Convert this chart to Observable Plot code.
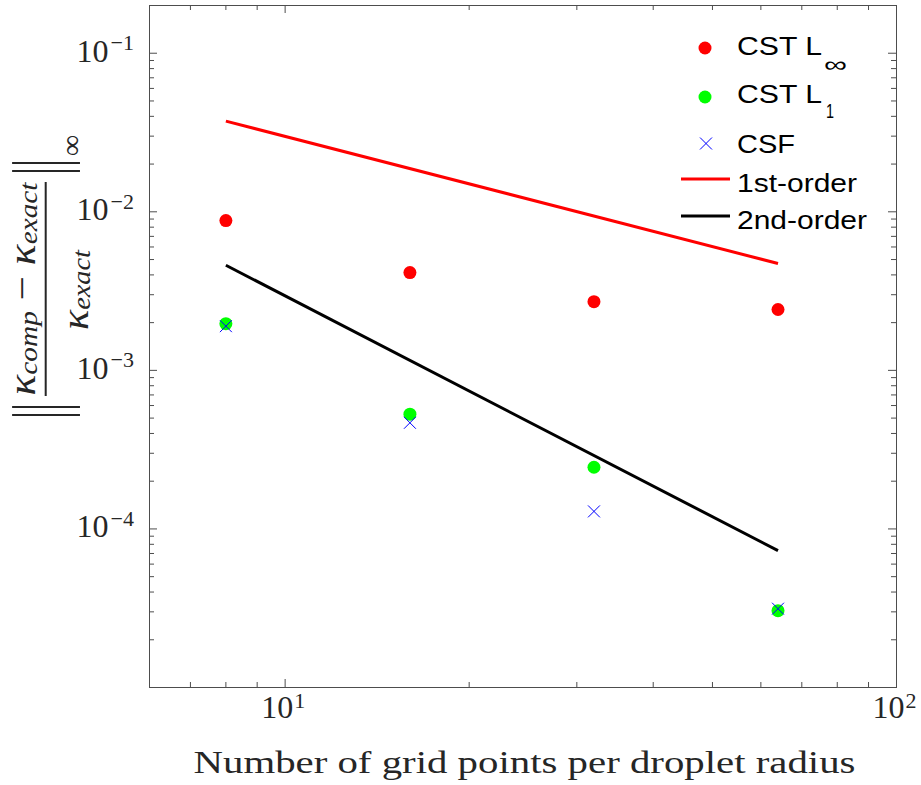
<!DOCTYPE html>
<html>
<head>
<meta charset="utf-8">
<script src="https://cdn.jsdelivr.net/npm/d3@7"></script>
<script src="https://cdn.jsdelivr.net/npm/@observablehq/plot@0.6"></script>
<style>
  html, body { margin: 0; padding: 0; background: #fff; }
  #chart { width: 921px; height: 785px; }
</style>
</head>
<body>
<div id="chart"></div>
<script>
// ---- data ----
const gridPoints = [8, 16, 32, 64];
const cstLinf = [0.0088, 0.00414, 0.00271, 0.00242];
const cstL1 = [0.00197, 0.000529, 0.000245, 3.05e-5];
const csf = [0.0019, 0.000467, 0.000129, 3.14e-5];
const firstOrderX = [8, 64];
const firstOrderY = [0.0373, 0.00472];
const secondOrderX = [8, 64];
const secondOrderY = [0.0046, 7.3e-5];

const xTickExponents = [1, 2];
const yTickExponents = [-4, -3, -2, -1];
const xMinorTicks = [7, 8, 9, 20, 30, 40, 50, 60, 70, 80, 90];
const yMinorTicks = [];
[-5, -4, -3, -2].forEach(e => { for (let m = 2; m <= 9; m++) yMinorTicks.push(m * 10 ** e); });

const xLabel = "Number of grid points per droplet radius";
const legendLabels = ["CST L", "CST L", "CSF", "1st-order", "2nd-order"];
const legendSubs = ["∞", "1", "", "", ""];

// ---- layout ----
const W = 921, H = 785;
const mL = 149, mR = 25, mT = 5, mB = 98;
const pw = W - mL - mR, ph = H - mT - mB;
const axisColor = "#4d4d4d";
const textColor = "#262626";
const serif = "Liberation Serif, Times New Roman, serif";
const sans = "Liberation Sans, Arial, sans-serif";

const toRows = (xs, ys) => xs.map((x, i) => ({x, y: ys[i]}));

const plot = Plot.plot({
  width: W, height: H,
  marginLeft: mL, marginRight: mR, marginTop: mT, marginBottom: mB,
  x: {type: "log", domain: [6, 100], axis: null},
  y: {type: "log", domain: [1e-5, 0.2], axis: null},
  marks: [
    // ticks (inward, both sides)
    Plot.ruleX(xTickExponents.map(e => 10 ** e), {x: d => d, stroke: axisColor, insetTop: ph - 8}),
    Plot.ruleX(xTickExponents.map(e => 10 ** e), {x: d => d, stroke: axisColor, insetBottom: ph - 8}),
    Plot.ruleX(xMinorTicks, {x: d => d, stroke: axisColor, insetTop: ph - 5}),
    Plot.ruleX(xMinorTicks, {x: d => d, stroke: axisColor, insetBottom: ph - 5}),
    Plot.ruleY(yTickExponents.map(e => 10 ** e), {y: d => d, stroke: axisColor, insetRight: pw - 8}),
    Plot.ruleY(yTickExponents.map(e => 10 ** e), {y: d => d, stroke: axisColor, insetLeft: pw - 8}),
    Plot.ruleY(yMinorTicks, {y: d => d, stroke: axisColor, insetRight: pw - 5}),
    Plot.ruleY(yMinorTicks, {y: d => d, stroke: axisColor, insetLeft: pw - 5}),
    Plot.frame({stroke: axisColor, strokeWidth: 1}),
    // y tick labels
    Plot.text(yTickExponents, {frameAnchor: "left", y: d => 10 ** d, text: () => "10",
      textAnchor: "end", lineAnchor: "bottom", dx: -41, dy: 8.5,
      fontSize: 32, fontFamily: serif, fill: textColor}),
    Plot.text(yTickExponents, {frameAnchor: "left", y: d => 10 ** d, text: d => "−" + Math.abs(d),
      textAnchor: "start", lineAnchor: "bottom", dx: -39, dy: -3,
      fontSize: 22, fontFamily: serif, fill: textColor}),
    // x tick labels
    Plot.text(xTickExponents, {frameAnchor: "bottom", x: d => 10 ** d, text: () => "10",
      textAnchor: "end", lineAnchor: "bottom", dx: 8, dy: 30,
      fontSize: 32, fontFamily: serif, fill: textColor}),
    Plot.text(xTickExponents, {frameAnchor: "bottom", x: d => 10 ** d, text: d => String(d),
      textAnchor: "start", lineAnchor: "bottom", dx: 9, dy: 20,
      fontSize: 22, fontFamily: serif, fill: textColor}),
    // x label
    Plot.text([xLabel], {frameAnchor: "bottom", text: d => d, textAnchor: "middle",
      lineAnchor: "bottom", dx: 1.5, dy: 85, fontSize: 32, fontFamily: serif, fill: textColor}),
    // data
    Plot.dot(toRows(gridPoints, cstLinf), {x: "x", y: "y", r: 6.5, fill: "#ff0000", stroke: null}),
    Plot.dot(toRows(gridPoints, cstL1), {x: "x", y: "y", r: 6.5, fill: "#00ff00", stroke: null}),
    Plot.dot(toRows(gridPoints, csf), {x: "x", y: "y", r: 5.5, symbol: "times", stroke: "#0000ff", strokeWidth: 1}),
    Plot.line(toRows(firstOrderX, firstOrderY), {x: "x", y: "y", stroke: "#ff0000", strokeWidth: 3, strokeLinecap: "butt"}),
    Plot.line(toRows(secondOrderX, secondOrderY), {x: "x", y: "y", stroke: "#000000", strokeWidth: 3, strokeLinecap: "butt"})
  ]
});

document.getElementById("chart").appendChild(plot);
const svg = d3.select(plot);

// stretch x label to reference width
svg.selectAll("text").filter(function () { return this.textContent === xLabel; })
  .attr("textLength", 662).attr("lengthAdjust", "spacingAndGlyphs");

// ---- y label: || (κ_comp − κ_exact) / κ_exact ||_∞ ----
const sy = 1.12;
const yl = svg.append("g")
  .attr("transform", `translate(45.7,289) rotate(-90) scale(1,${sy})`)
  .attr("fill", textColor)
  .attr("text-anchor", "start")
  .style("font-family", serif);
const num = yl.append("text").attr("x", 0).attr("y", -10).attr("text-anchor", "middle")
  .attr("font-size", 34).attr("textLength", 213).attr("lengthAdjust", "spacingAndGlyphs");
num.append("tspan").attr("font-style", "italic").text("κ");
num.append("tspan").attr("font-style", "italic").attr("font-size", 23).attr("dy", 2.5).text("comp");
num.append("tspan").attr("dy", -2.5).text(" − ");
num.append("tspan").attr("font-style", "italic").text("κ");
num.append("tspan").attr("font-style", "italic").attr("font-size", 23).attr("dy", 2.5).text("exact");
const den = yl.append("text").attr("x", -1).attr("y", 37.5).attr("text-anchor", "middle")
  .attr("font-size", 34).attr("textLength", 80).attr("lengthAdjust", "spacingAndGlyphs");
den.append("tspan").attr("font-style", "italic").text("κ");
den.append("tspan").attr("font-style", "italic").attr("font-size", 23).attr("dy", 2.5).text("exact");
yl.append("line").attr("x1", -107).attr("x2", 107).attr("y1", 0).attr("y2", 0)
  .attr("stroke", textColor).attr("stroke-width", 1.8);
[126, 118, -118, -126].forEach(lx => {
  yl.append("line").attr("x1", lx).attr("x2", lx).attr("y1", -30).attr("y2", 30.6)
    .attr("stroke", textColor).attr("stroke-width", 1.8);
});
yl.append("text").attr("x", 133).attr("y", 31.5).attr("font-size", 26).attr("text-anchor", "start")
  .attr("textLength", 21).attr("lengthAdjust", "spacingAndGlyphs").text("∞");

// ---- legend ----
const lg = svg.append("g").style("font-family", sans).attr("fill", "#000").attr("text-anchor", "start");
const rows = [
  {sym: "dot", color: "#ff0000", cy: 48, base: 55, len: 85, subX: 824, subBase: 72, subSize: 22, subLen: 23},
  {sym: "dot", color: "#00ff00", cy: 97, base: 103, len: 85, subX: 826, subBase: 118, subSize: 20, subLen: 8},
  {sym: "x", color: "#0000ff", cy: 143.5, base: 153, len: 58},
  {sym: "line", color: "#ff0000", cy: 179, base: 192, len: 120},
  {sym: "line", color: "#000000", cy: 216, base: 229, len: 130}
];
rows.forEach((r, i) => {
  if (r.sym === "dot") {
    lg.append("circle").attr("cx", 705).attr("cy", r.cy).attr("r", 6.5).attr("fill", r.color);
  } else if (r.sym === "x") {
    lg.append("path").attr("d", `M700,${r.cy - 6}L712,${r.cy + 6}M700,${r.cy + 6}L712,${r.cy - 6}`)
      .attr("stroke", r.color).attr("stroke-width", 1).attr("fill", "none");
  } else {
    lg.append("line").attr("x1", 681).attr("x2", 730).attr("y1", r.cy).attr("y2", r.cy)
      .attr("stroke", r.color).attr("stroke-width", 3);
  }
  lg.append("text").attr("x", 737).attr("y", r.base).attr("font-size", 26).attr("text-anchor", "start")
    .attr("textLength", r.len).attr("lengthAdjust", "spacingAndGlyphs").text(legendLabels[i]);
  if (legendSubs[i]) {
    lg.append("text").attr("x", r.subX).attr("y", r.subBase).attr("font-size", r.subSize).attr("text-anchor", "start")
      .attr("textLength", r.subLen).attr("lengthAdjust", "spacingAndGlyphs").text(legendSubs[i]);
  }
});
</script>
</body>
</html>
